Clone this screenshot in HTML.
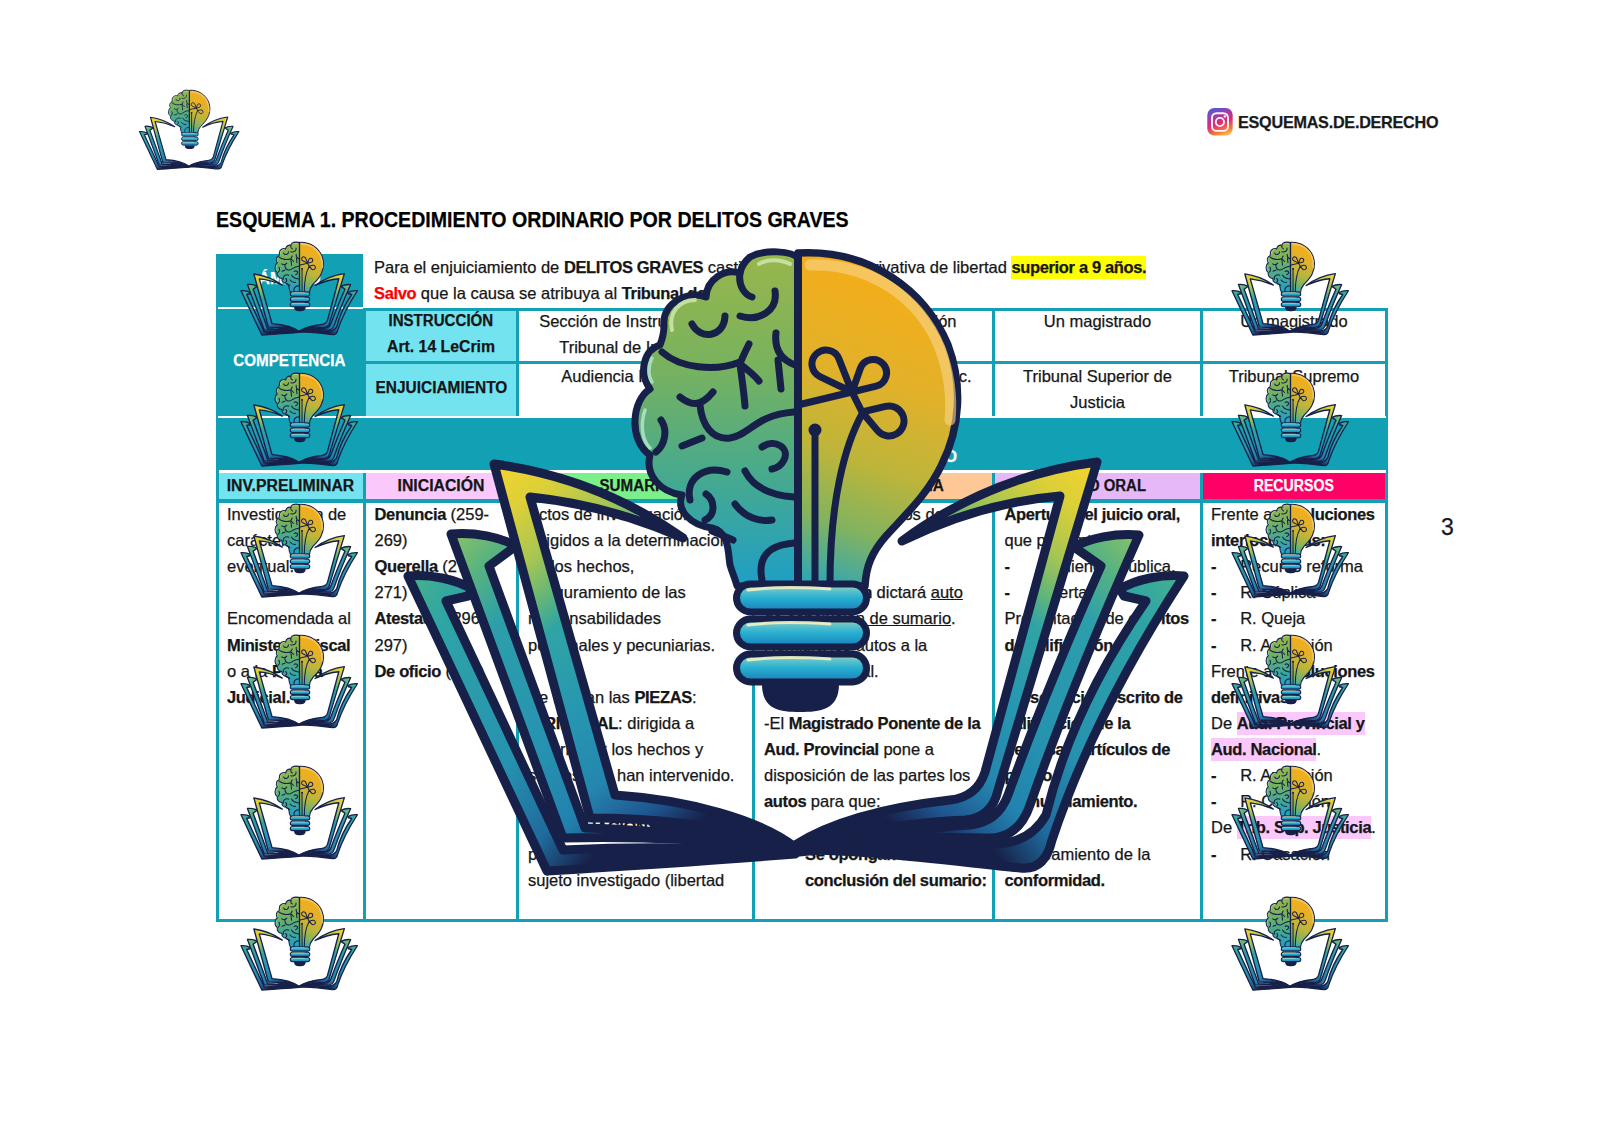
<!DOCTYPE html>
<html><head><meta charset="utf-8"><title>Esquema</title><style>
html,body{margin:0;padding:0}
body{width:1600px;height:1131px;background:#fff;position:relative;overflow:hidden;font-family:"Liberation Sans",sans-serif;color:#161616}
.a{position:absolute}
.t{position:absolute;white-space:nowrap;line-height:26.13px;-webkit-text-stroke:0.25px currentColor}
b{font-weight:700;letter-spacing:-0.35px}
.hl{background:#FFFF00;padding:2px 0 3px}
.pk{background:#FBC8FB;padding:2px 0 3px}
.ind{display:inline-block;width:32px}
.ind2{display:inline-block;width:24px}
.chk{color:#B050E0;display:inline-block;width:41px;text-align:center;font-weight:700}
</style></head><body>
<div class="a" style="left:216px;top:254px;width:147px;height:163px;background:#12A1B4;"></div>
<div class="a" style="left:218px;top:307px;width:145px;height:2px;background:#fff;"></div>
<div class="a" style="left:363px;top:308px;width:1025px;height:3px;background:#12A1B4;"></div>
<div class="a" style="left:1385px;top:308px;width:3px;height:614px;background:#12A1B4;"></div>
<div class="a" style="left:363px;top:308px;width:3px;height:110px;background:#12A1B4;"></div>
<div class="a" style="left:366px;top:311px;width:150px;height:50px;background:#74E3F0;"></div>
<div class="a" style="left:366px;top:364px;width:150px;height:52px;background:#74E3F0;"></div>
<div class="a" style="left:363px;top:361px;width:1025px;height:3px;background:#12A1B4;"></div>
<div class="a" style="left:516px;top:308px;width:3px;height:109px;background:#12A1B4;"></div>
<div class="a" style="left:752px;top:308px;width:3px;height:109px;background:#12A1B4;"></div>
<div class="a" style="left:992px;top:308px;width:3px;height:109px;background:#12A1B4;"></div>
<div class="a" style="left:1200px;top:308px;width:3px;height:109px;background:#12A1B4;"></div>
<div class="a" style="left:216px;top:416px;width:1172px;height:55px;background:#12A1B4;"></div>
<div class="a" style="left:218px;top:416px;width:1168px;height:2px;background:#fff;"></div>
<div class="a" style="left:218px;top:470px;width:1168px;height:3px;background:#fff;"></div>
<div class="a" style="left:216px;top:470px;width:3px;height:452px;background:#12A1B4;"></div>
<div class="a" style="left:219px;top:473px;width:144px;height:26px;background:#74E3F0;"></div>
<div class="a" style="left:366px;top:473px;width:150px;height:26px;background:#FAC8FA;"></div>
<div class="a" style="left:519px;top:473px;width:233px;height:26px;background:#7BF08A;"></div>
<div class="a" style="left:755px;top:473px;width:237px;height:26px;background:#FDC796;"></div>
<div class="a" style="left:995px;top:473px;width:205px;height:26px;background:#E7B8F7;"></div>
<div class="a" style="left:1203px;top:473px;width:182px;height:26px;background:#FF0066;"></div>
<div class="a" style="left:216px;top:499px;width:1172px;height:4px;background:#12A1B4;"></div>
<div class="a" style="left:363px;top:473px;width:3px;height:449px;background:#12A1B4;"></div>
<div class="a" style="left:516px;top:473px;width:3px;height:449px;background:#12A1B4;"></div>
<div class="a" style="left:752px;top:473px;width:3px;height:449px;background:#12A1B4;"></div>
<div class="a" style="left:992px;top:473px;width:3px;height:449px;background:#12A1B4;"></div>
<div class="a" style="left:1200px;top:473px;width:3px;height:449px;background:#12A1B4;"></div>
<div class="a" style="left:216px;top:919px;width:1172px;height:3px;background:#12A1B4;"></div>
<div class="t" style="left:1238px;top:108.7px;font-size:16.2px;font-weight:700;line-height:26px;color:#1a1a1a;letter-spacing:-0.25px">ESQUEMAS.DE.DERECHO</div>
<div class="t" style="left:216px;top:207.19px;font-size:21.5px;font-weight:700;transform:scaleX(0.911);transform-origin:0 0;color:#000">ESQUEMA 1. PROCEDIMIENTO ORDINARIO POR DELITOS GRAVES</div>
<div class="t" style="left:1441px;top:513.97px;font-size:23px;color:#1a1a1a;">3</div>
<div class="t" style="left:374px;top:254.02px;font-size:16.5px;">Para el enjuiciamiento de <b>DELITOS GRAVES</b> castigados con pena privativa de libertad <span class="hl"><b>superior a 9 años.</b></span><br><span style="color:#FF0000"><b>Salvo</b></span> que la causa se atribuya al <b>Tribunal del Jurado.</b></div>
<div class="t" style="left:216px;top:266.46px;font-size:15.8px;width:147px;text-align:center;color:#fff;font-weight:700;">ÁMBITO</div>
<div class="t" style="left:216px;top:348.46px;font-size:15.8px;width:147px;text-align:center;color:#fff;font-weight:700;"><span style="display:inline-block;transform:scaleX(0.96)">COMPETENCIA</span></div>
<div class="t" style="left:366px;top:308.26px;font-size:15.8px;width:150px;text-align:center;font-weight:700;"><span style="display:inline-block;transform:scaleX(0.955)">INSTRUCCIÓN</span><br>Art. 14 LeCrim</div>
<div class="t" style="left:366px;top:375.26px;font-size:15.8px;width:150px;text-align:center;font-weight:700;"><span style="display:inline-block;transform:scaleX(0.977)">ENJUICIAMIENTO</span></div>
<div class="t" style="left:519px;top:308.02px;font-size:16.5px;width:233px;text-align:center;">Sección de Instrucción del<br>Tribunal de Instancia</div>
<div class="t" style="left:519px;top:362.72px;font-size:16.5px;width:233px;text-align:center;">Audiencia Provincial</div>
<div class="t" style="left:755px;top:308.02px;font-size:16.5px;width:237px;text-align:center;">Sección de Instrucción<br>Tribunal Central</div>
<div class="t" style="left:755px;top:362.72px;font-size:16.5px;width:237px;text-align:center;">Sala de lo Penal Aud. Nac.</div>
<div class="t" style="left:995px;top:308.02px;font-size:16.5px;width:205px;text-align:center;">Un magistrado</div>
<div class="t" style="left:995px;top:362.72px;font-size:16.5px;width:205px;text-align:center;">Tribunal Superior de<br>Justicia</div>
<div class="t" style="left:1203px;top:308.02px;font-size:16.5px;width:182px;text-align:center;">Un magistrado</div>
<div class="t" style="left:1203px;top:362.72px;font-size:16.5px;width:182px;text-align:center;">Tribunal Supremo</div>
<div class="t" style="left:216px;top:444.46px;font-size:15.8px;width:741px;text-align:right;color:#fff;font-weight:700;">FASES DEL PROCEDIMIENTO</div>
<div class="t" style="left:218px;top:472.96px;font-size:15.8px;width:145px;text-align:center;font-weight:700;">INV.PRELIMINAR</div>
<div class="t" style="left:366px;top:472.96px;font-size:15.8px;width:150px;text-align:center;font-weight:700;">INICIACIÓN</div>
<div class="t" style="left:519px;top:472.96px;font-size:15.8px;width:233px;text-align:center;font-weight:700;"><span style="display:inline-block;transform:scaleX(0.96)">SUMARIO</span></div>
<div class="t" style="left:755px;top:472.96px;font-size:15.8px;width:237px;text-align:center;font-weight:700;"><span style="display:inline-block;transform:scaleX(0.97)">FASE INTERMEDIA</span></div>
<div class="t" style="left:995px;top:472.96px;font-size:15.8px;width:205px;text-align:center;font-weight:700;"><span style="display:inline-block;transform:scaleX(0.945)">JUICIO ORAL</span></div>
<div class="t" style="left:1203px;top:472.96px;font-size:15.8px;width:182px;text-align:center;color:#fff;font-weight:700;"><span style="display:inline-block;transform:scaleX(0.895)">RECURSOS</span></div>
<div class="t" style="left:227px;top:500.92px;font-size:16.5px;">Investigación de<br>carácter<br>eventual.<br><br>Encomendada al<br><b>Ministerio Fiscal</b><br>o a la <b>Policía</b><br><b>Judicial.</b></div>
<div class="t" style="left:374.5px;top:500.92px;font-size:16.5px;"><b>Denuncia</b> (259-<br>269)<br><b>Querella</b> (270-<br>271)<br><b>Atestado</b> (296-<br>297)<br><b>De oficio</b> (308)</div>
<div class="t" style="left:528px;top:500.92px;font-size:16.5px;">Actos de investigación<br>dirigidos a la determinación<br>de los hechos,<br>aseguramiento de las<br>responsabilidades<br>personales y pecuniarias.<br><br>Se forman las <b>PIEZAS</b>:<br>-<b>PRINCIPAL</b>: dirigida a<br>determinar los hechos y<br>sujetos que han intervenido.<br><br>-<b>DE SITUACIÓN</b>:<br>para asegurar la situación del<br>sujeto investigado (libertad</div>
<div class="t" style="left:764px;top:500.92px;font-size:16.5px;">-Concluidos los actos de la<br>investigación,<br>el Juez de la<br>de <b>Instrucción</b> dictará <u>auto</u><br><u>de conclusión de sumario</u>.<br>Remitirá los autos a la<br>Aud. Provincial.<br><br>-El <b>Magistrado Ponente de la</b><br><b>Aud. Provincial</b> pone a<br>disposición de las partes los<br><b>autos</b> para que:<br><br><span class="chk">&#10003;</span><b>Se opongan a la</b><br><span style="padding-left:41px"></span><b>conclusión del sumario:</b></div>
<div class="t" style="left:1004.5px;top:500.92px;font-size:16.5px;"><b>Apertura del juicio oral,</b><br>que presenta:<br><b>-</b><span class="ind"></span>Audiencia pública.<br><b>-</b><span class="ind"></span>Oferta de<br>Presentación de <b>escritos</b><br><b>de calificación.</b><br><br><b>Presentación escrito de</b><br><b>calificación de la</b><br><b>defensa y artículos de</b><br><b>previo</b><br><b>pronunciamiento.</b><br><br>Planteamiento de la<br><b>conformidad.</b></div>
<div class="t" style="left:1211px;top:500.92px;font-size:16.5px;">Frente a <b>resoluciones</b><br><b>interlocutorias:</b><br><b>-</b><span class="ind2"></span>Recurso reforma<br><b>-</b><span class="ind2"></span>R. Súplica<br><b>-</b><span class="ind2"></span>R. Queja<br><b>-</b><span class="ind2"></span>R. Apelación<br>Frente a <b>resoluciones</b><br><b>definitivas:</b><br>De <span class="pk"><b>Aud. Provincial y</b></span><br><span class="pk"><b>Aud. Nacional</b></span>.<br><b>-</b><span class="ind2"></span>R. Apelación<br><b>-</b><span class="ind2"></span>R. Casación<br>De <span class="pk"><b>Trib. Sup. Justicia</b></span>.<br><b>-</b><span class="ind2"></span>R. Casación</div>
<svg class="a" style="left:1207px;top:108px" width="26" height="28" viewBox="0 0 26 28">
<defs><linearGradient id="ig" x1="0.25" y1="0" x2="0.6" y2="1"><stop offset="0" stop-color="#4F5BD5"/><stop offset="0.3" stop-color="#A43AA6"/><stop offset="0.55" stop-color="#DD2A7B"/><stop offset="0.85" stop-color="#F77737"/><stop offset="1" stop-color="#FCAF45"/></linearGradient></defs>
<rect x="0.3" y="0" width="25.4" height="27.6" rx="7" fill="url(#ig)"/>
<rect x="5" y="5.2" width="16" height="17.7" rx="4.5" fill="none" stroke="#fff" stroke-width="1.9" opacity="0.95"/>
<circle cx="12.9" cy="14" r="4.1" fill="none" stroke="#fff" stroke-width="1.9" opacity="0.95"/>
<circle cx="17.8" cy="8.4" r="1.2" fill="#fff"/></svg>
<svg class="a" style="left:0;top:0" width="1600" height="1131" viewBox="0 0 1600 1131">
<defs><linearGradient id="gp1" gradientUnits="userSpaceOnUse" x1="494" y1="464" x2="795" y2="847">
<stop offset="0" stop-color="#F4D52C"/><stop offset="0.1" stop-color="#DCCF38"/><stop offset="0.2" stop-color="#A8C652"/><stop offset="0.27" stop-color="#6AB874"/>
<stop offset="0.34" stop-color="#30A4A4"/><stop offset="0.5" stop-color="#2797B0"/><stop offset="0.65" stop-color="#2486AE"/><stop offset="0.76" stop-color="#1E5590"/><stop offset="0.84" stop-color="#172048"/></linearGradient>
<linearGradient id="gp2" gradientUnits="userSpaceOnUse" x1="451" y1="534" x2="795" y2="850">
<stop offset="0" stop-color="#8CC266"/><stop offset="0.1" stop-color="#55B282"/><stop offset="0.2" stop-color="#2C9FAA"/><stop offset="0.45" stop-color="#2693B0"/><stop offset="0.6" stop-color="#2282AE"/><stop offset="0.68" stop-color="#1E5A92"/><stop offset="0.76" stop-color="#172048"/></linearGradient>
<linearGradient id="gp3" gradientUnits="userSpaceOnUse" x1="408" y1="576" x2="795" y2="853">
<stop offset="0" stop-color="#46B28A"/><stop offset="0.12" stop-color="#2EA4A6"/><stop offset="0.4" stop-color="#2692B0"/><stop offset="0.55" stop-color="#1F6A9C"/><stop offset="0.66" stop-color="#172048"/></linearGradient>
<linearGradient id="gp1r" gradientUnits="userSpaceOnUse" x1="1097" y1="462" x2="795" y2="847">
<stop offset="0" stop-color="#F4D52C"/><stop offset="0.1" stop-color="#DCCF38"/><stop offset="0.2" stop-color="#A8C652"/><stop offset="0.27" stop-color="#6AB874"/>
<stop offset="0.34" stop-color="#30A4A4"/><stop offset="0.5" stop-color="#2797B0"/><stop offset="0.65" stop-color="#2486AE"/><stop offset="0.76" stop-color="#1E5590"/><stop offset="0.84" stop-color="#172048"/></linearGradient>
<linearGradient id="gp2r" gradientUnits="userSpaceOnUse" x1="1139" y1="535" x2="795" y2="850">
<stop offset="0" stop-color="#8CC266"/><stop offset="0.1" stop-color="#55B282"/><stop offset="0.2" stop-color="#2C9FAA"/><stop offset="0.45" stop-color="#2693B0"/><stop offset="0.6" stop-color="#2282AE"/><stop offset="0.68" stop-color="#1E5A92"/><stop offset="0.76" stop-color="#172048"/></linearGradient>
<linearGradient id="gp3r" gradientUnits="userSpaceOnUse" x1="1184" y1="576" x2="795" y2="853">
<stop offset="0" stop-color="#46B28A"/><stop offset="0.12" stop-color="#2EA4A6"/><stop offset="0.4" stop-color="#2692B0"/><stop offset="0.55" stop-color="#1F6A9C"/><stop offset="0.66" stop-color="#172048"/></linearGradient>
<linearGradient id="gb" gradientUnits="userSpaceOnUse" x1="0" y1="250" x2="0" y2="585">
<stop offset="0" stop-color="#9AB64B"/><stop offset="0.35" stop-color="#78B25E"/><stop offset="0.65" stop-color="#4AAA8A"/><stop offset="1" stop-color="#1E9FC6"/></linearGradient>
<linearGradient id="gr" gradientUnits="userSpaceOnUse" x1="920" y1="270" x2="810" y2="585">
<stop offset="0" stop-color="#F7AD16"/><stop offset="0.35" stop-color="#E2B12A"/><stop offset="0.6" stop-color="#BDB53A"/><stop offset="0.8" stop-color="#83B35E"/><stop offset="1" stop-color="#2CA6B8"/></linearGradient>
<linearGradient id="gring" x1="0" y1="0" x2="0" y2="1">
<stop offset="0" stop-color="#C6DA86"/><stop offset="0.22" stop-color="#62C3CC"/><stop offset="0.5" stop-color="#27AFD0"/><stop offset="0.85" stop-color="#1D8CC1"/><stop offset="1" stop-color="#1A6CA6"/></linearGradient><symbol id="L" viewBox="400 240 800 640" overflow="visible"><g><path d="M408,576 C430,574 455,579 472,589 L468,596 L446,601 L563,850 C640,846 730,847 795,854 C720,860 630,866 547,871 Z" fill="url(#gp3)" stroke="#172048" stroke-width="9" stroke-linejoin="round"/>
<path d="M451,534 C475,532 500,537 516,546 L489,566 L585,828 C660,830 740,838 795,851 C730,840 640,836 563,838 Z" fill="url(#gp2)" stroke="#172048" stroke-width="9" stroke-linejoin="round"/>
<path d="M494,464 Q598,478 683,538 Q608,505 530,497 L615,795 C690,800 760,820 795,847 C740,830 670,818 590,818 Z" fill="url(#gp1)" stroke="#172048" stroke-width="9" stroke-linejoin="round"/><path d="M650,818 C700,826 760,838 795,848 L795,853 C760,846 700,834 650,828 Z" fill="#172048"/><path d="M712,838 C740,842 770,846 795,851 L795,857 C770,854 740,852 712,851 Z" fill="#172048"/></g>
<g><path d="M1184,576 C1162,574 1137,579 1120,589 L1124,596 L1146,601 Q1072,708 1046,815 Q1030,843 995,844 C930,845 850,844 795,850 C860,849 950,861 1020,868 Q1045,871 1052,840 Q1094,714 1184,576 Z" fill="url(#gp3r)" stroke="#172048" stroke-width="9" stroke-linejoin="round"/>
<path d="M1139,535 C1115,533 1090,538 1074,547 L1101,566 Q1046,690 1008,795 Q998,822 970,825 C900,830 840,836 795,848 C850,840 920,836 985,838 Q1018,840 1030,805 Q1070,690 1139,535 Z" fill="url(#gp2r)" stroke="#172048" stroke-width="9" stroke-linejoin="round"/>
<path d="M1097,462 Q990,476 902,541 Q980,503 1060,496 L985,772 Q977,797 950,800 C880,808 830,823 795,845 C850,833 910,822 965,820 Q992,818 998,790 Z" fill="url(#gp1r)" stroke="#172048" stroke-width="9" stroke-linejoin="round"/><g transform="matrix(-1 0 0 1 1590 0)"><path d="M650,818 C700,826 760,838 795,848 L795,853 C760,846 700,834 650,828 Z" fill="#172048"/><path d="M712,838 C740,842 770,846 795,851 L795,857 C770,854 740,852 712,851 Z" fill="#172048"/></g></g>
<path d="M700,828 C740,834 775,842 796,846 C817,842 852,834 892,828 C870,840 830,848 796,853 C762,856 722,846 700,828 Z" fill="#172048"/>
<path d="M798,258 C792,251 765,249 750,257 C744,262 741,268 740,273 C725,268 707,279 706,297 C690,290 662,302 664,325 C664,333 662,340 660,345 C644,350 638,372 650,389 C632,400 628,440 650,455 C645,475 660,492 682,495 C676,510 690,525 712,528 C730,532 728,555 730,565 C732,572 735,578 737,586 L798,586 Z" fill="url(#gb)" stroke="#172048" stroke-width="7" stroke-linejoin="round"/>
<path d="M798,253 C870,249 925,290 948,345 C963,385 960,428 942,464 C928,494 905,515 886,536 C872,552 866,566 865,586 L798,586 Z" fill="url(#gr)" stroke="#172048" stroke-width="7.5" stroke-linejoin="round"/>
<path d="M810,265 C870,263 920,298 940,348 C950,375 952,400 950,420" fill="none" stroke="#F9D58A" stroke-width="11" stroke-linecap="round" opacity="0.6"/>
<path d="M672,330 C668,312 680,300 695,300" fill="none" stroke="#C2E0A0" stroke-width="4" stroke-linecap="round"/>
<path d="M759,264 C767,259 780,259 790,264" fill="none" stroke="#C2E0A0" stroke-width="4" stroke-linecap="round"/>
<path d="M645,410 C640,425 642,440 650,448" fill="none" stroke="#A8DCC0" stroke-width="3.5" stroke-linecap="round"/>
<path d="M652,358 C648,366 648,376 652,382" fill="none" stroke="#A8DCC0" stroke-width="3.5" stroke-linecap="round"/>
<path d="M740,273 C738,286 745,295 752,297 M775,291 C778,310 760,322 740,316 M725,316 C724,338 700,340 692,324 M776,333 C774,350 782,360 795,365 M778,360 L781,389 M749,344 C745,352 742,358 740,364 C748,370 755,376 759,381 M740,364 C742,380 744,392 745,406 M662,352 C680,368 715,372 740,362 M680,397 C690,405 700,408 713,392 M700,405 C702,425 712,440 730,438 C750,435 755,415 794,412 M661,420 C668,430 665,445 656,452 M682,446 L702,438 M762,447 C775,438 790,448 784,460 C781,466 777,468 772,469 M745,471 C752,485 768,495 794,497 M727,472 C705,465 685,478 690,500 M706,494 C715,500 716,515 705,520 M735,504 C745,518 760,522 772,520 M762,580 C758,560 765,545 795,543 M712,531 L733,540" fill="none" stroke="#172048" stroke-width="7" stroke-linecap="round" stroke-linejoin="round"/>
<path d="M798,254 L798,586" stroke="#172048" stroke-width="8"/>
<path d="M852,392 L819.9,376.6 A14,14 0 1 1 839.0,358.9 Z M852,392 L860.3,368.5 A13.5,13.5 0 1 1 876.2,386.1 Z M802,404 L852,392 L862,412 M862,412 L885.5,406.4 A15,15 0 1 1 877.5,430.6 Z M862,414 C845,445 830,500 830,584 M815,430 L815,584" fill="none" stroke="#172048" stroke-width="7" stroke-linecap="round" stroke-linejoin="round"/>
<circle cx="815" cy="430" r="6.5" fill="#172048"/>
<path d="M762,684 C762,710 780,712 800,712 C820,712 839,710 839,684 Z" fill="#172048"/>
<rect x="736.5" y="584" width="130" height="28" rx="14" fill="url(#gring)" stroke="#172048" stroke-width="7"/>
<path d="M748,590 C770,587 800,587 830,589" fill="none" stroke="#EEF3C6" stroke-width="3" stroke-linecap="round" opacity="0.9"/>
<rect x="736.5" y="619" width="130" height="28" rx="14" fill="url(#gring)" stroke="#172048" stroke-width="7"/>
<path d="M748,625 C770,622 800,622 830,624" fill="none" stroke="#EEF3C6" stroke-width="3" stroke-linecap="round" opacity="0.9"/>
<rect x="736.5" y="654" width="130" height="28" rx="14" fill="url(#gring)" stroke="#172048" stroke-width="7"/>
<path d="M748,660 C770,657 800,657 830,659" fill="none" stroke="#EEF3C6" stroke-width="3" stroke-linecap="round" opacity="0.9"/></symbol></defs>
<use href="#L" x="239.80" y="240.35" width="120.00" height="96.00"/>
<use href="#L" x="1230.80" y="240.35" width="120.00" height="96.00"/>
<use href="#L" x="239.80" y="371.35" width="120.00" height="96.00"/>
<use href="#L" x="1230.80" y="371.35" width="120.00" height="96.00"/>
<use href="#L" x="239.80" y="502.35" width="120.00" height="96.00"/>
<use href="#L" x="1230.80" y="502.35" width="120.00" height="96.00"/>
<use href="#L" x="239.80" y="633.35" width="120.00" height="96.00"/>
<use href="#L" x="1230.80" y="633.35" width="120.00" height="96.00"/>
<use href="#L" x="239.80" y="764.35" width="120.00" height="96.00"/>
<use href="#L" x="1230.80" y="764.35" width="120.00" height="96.00"/>
<use href="#L" x="239.80" y="895.35" width="120.00" height="96.00"/>
<use href="#L" x="1230.80" y="895.35" width="120.00" height="96.00"/>
<use href="#L" x="138.48" y="88.59" width="102.40" height="81.92"/>
<use href="#L" x="400.00" y="240.00" width="800.00" height="640.00"/>
</svg>
</body></html>
